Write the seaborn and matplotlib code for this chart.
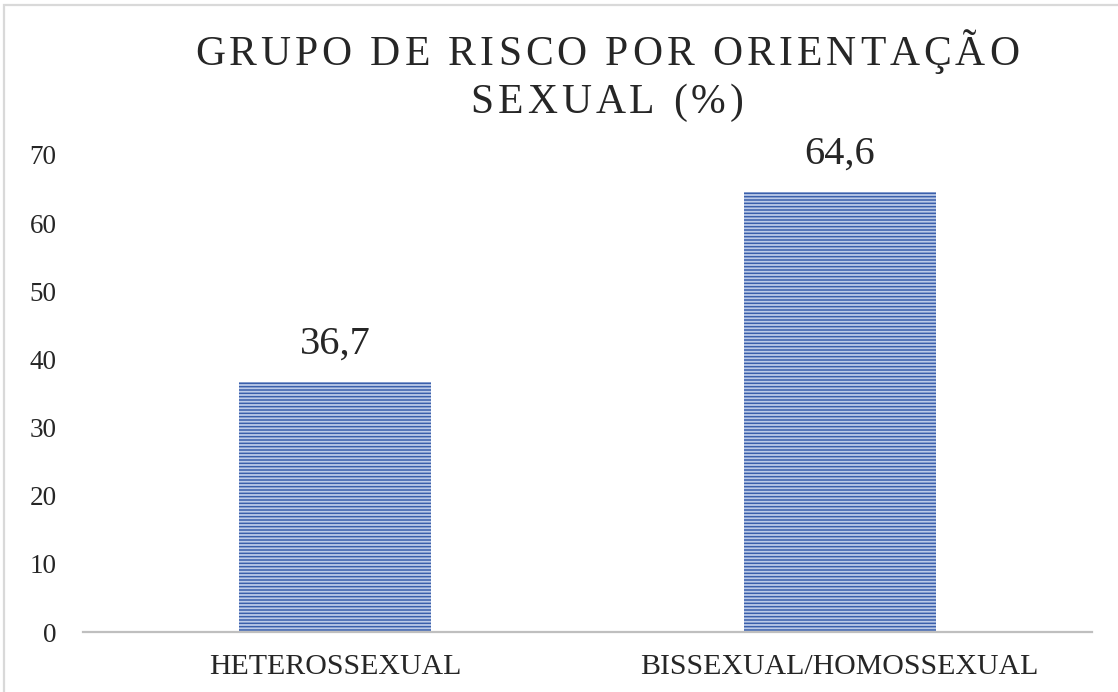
import matplotlib
matplotlib.use("Agg")
import matplotlib.pyplot as plt
import seaborn as sns
from matplotlib.patches import Rectangle

# Dados do gráfico
categorias = ["HETEROSSEXUAL", "BISSEXUAL/HOMOSSEXUAL"]
valores = [36.7, 64.6]
rotulos = ["36,7", "64,6"]
yticks = [0, 10, 20, 30, 40, 50, 60, 70]
titulo_linhas = ["GRUPO DE RISCO POR ORIENTAÇÃO", "SEXUAL (%)"]

sns.set_theme(style="white")
plt.rcParams['font.family'] = ['Liberation Serif', 'DejaVu Serif']
plt.rcParams['hatch.linewidth'] = 1.3

W, H = 1118, 692
fig = plt.figure(figsize=(W / 100, H / 100), dpi=100)
ax = fig.add_axes([83 / W, (H - 632) / H, (1092 - 83) / W, (632 - 155) / H])

sns.barplot(x=categorias, y=valores, color="#3a5fab", width=0.38, saturation=1, ax=ax)
for p in ax.patches:
    p.set_hatch("-----")
    p.set_edgecolor("#bccbe8")
    p.set_linewidth(0)

for i, (v, r) in enumerate(zip(valores, rotulos)):
    ax.annotate(r, (i, v), xytext=(0, 14), textcoords="offset points",
                ha="center", va="bottom", fontsize=29, color="#262626")

ax.set_xlim(-0.5, 1.5)
ax.set_ylim(0, 70)
ax.set_yticks(yticks)
ax.set_yticklabels([str(t) for t in yticks])
ax.tick_params(axis="y", length=0, pad=19, labelsize=19.5, labelcolor="#262626")
ax.tick_params(axis="x", length=0, pad=16, labelsize=21.5, labelcolor="#262626")
ax.set_xlabel("")
ax.set_ylabel("")
sns.despine(ax=ax, left=True, top=True, right=True)
ax.spines["bottom"].set_color("#bfbfbf")
ax.spines["bottom"].set_linewidth(1.6)

# Borda do gráfico (corta na direita e embaixo)
fig.patches.append(Rectangle((4 / W, -0.1), 1.2, 1 - 5 / H + 0.1, transform=fig.transFigure,
                             fill=False, edgecolor="#d9d9d9", linewidth=1.6))

# Título com espaçamento entre letras
renderer = fig.canvas.get_renderer()
tracking = 4.0  # px extra entre letras
baselines = [65, 113]
centro = 607
for linha, base in zip(titulo_linhas, baselines):
    larguras = []
    for ch in linha:
        t = fig.text(0, 0, ch if ch != " " else "\u00a0", fontsize=30)
        larguras.append(t.get_window_extent(renderer).width)
        t.remove()
    total = sum(larguras) + tracking * (len(linha) - 1)
    x = centro - total / 2
    for ch, w in zip(linha, larguras):
        fig.text(x / W, (H - base) / H, ch, fontsize=30, color="#262626",
                 ha="left", va="baseline")
        x += w + tracking

fig.savefig("out.png", dpi=100)
